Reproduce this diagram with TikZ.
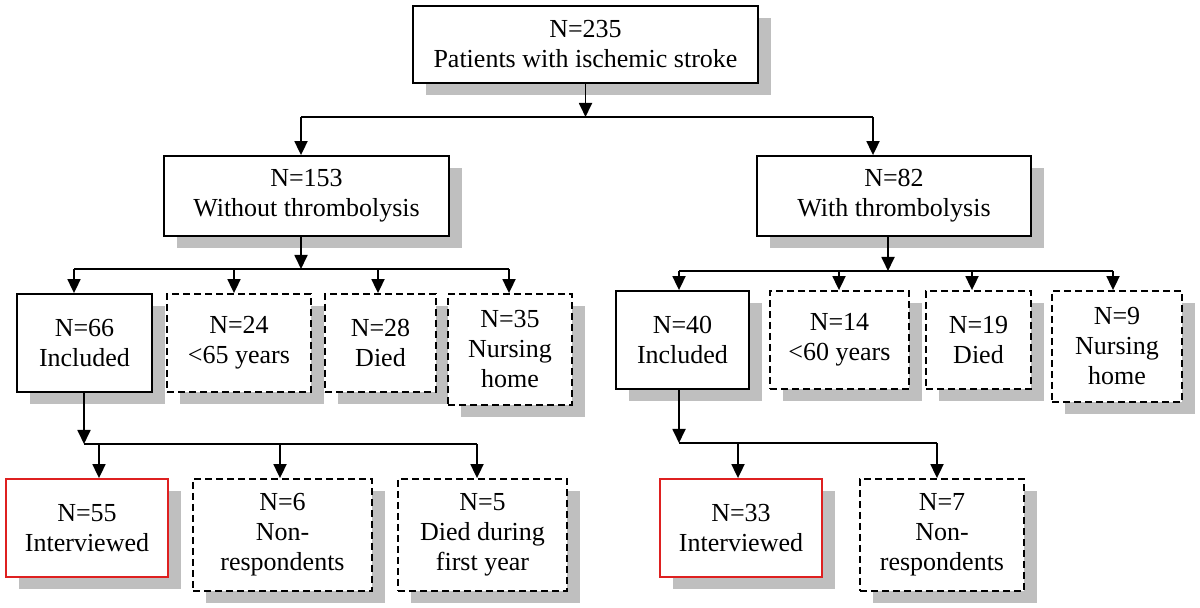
\documentclass[tikz,border=0pt]{standalone}
\usepackage{fontspec}
\setmainfont{Liberation Serif}
\usetikzlibrary{arrows.meta,shadows}
\definecolor{boxred}{RGB}{222,32,32}
\tikzset{
  box/.style={draw=black, fill=white, line width=0.9pt, align=center, inner sep=0pt,
    font=\fontsize{13pt}{15pt}\selectfont,
    drop shadow={shadow xshift=6.5pt, shadow yshift=-6pt, fill=black!25, opacity=1}},
  solidbox/.style={box},
  dashbox/.style={box, dash pattern=on 3.5pt off 2pt},
  redbox/.style={box, draw=boxred},
  conn/.style={line width=0.9pt},
  arr/.style={line width=0.9pt, -{Triangle[length=7pt,width=6.5pt]}},
}
\begin{document}
\begin{tikzpicture}[x=0.5pt,y=-0.5pt]
\useasboundingbox (0,0) rectangle (1200,608);
% level 1
\node[solidbox, minimum width=172.5pt, minimum height=38.5pt] (top) at (585.5,44.5) {N=235\\Patients with ischemic stroke};
% level 2
\node[solidbox, minimum width=142.5pt, minimum height=40pt] (wo) at (306.5,196) {N=153\\Without thrombolysis};
\node[solidbox, minimum width=137pt, minimum height=40pt] (wi) at (894,196) {N=82\\With thrombolysis};
% level 3 left
\node[solidbox, minimum width=67.5pt, minimum height=49pt] (inc66) at (84.5,343) {N=66\\Included};
\node[dashbox, minimum width=72pt, minimum height=49pt] (a24) at (239,343) {N=24\\<65 years};
\node[dashbox, minimum width=55.5pt, minimum height=49pt] (d28) at (380.5,343) {N=28\\Died};
\node[dashbox, minimum width=62pt, minimum height=55.5pt] (n35) at (510,349.5) {N=35\\Nursing\\home};
% level 3 right
\node[solidbox, minimum width=66.5pt, minimum height=49pt] (inc40) at (682.5,340) {N=40\\Included};
\node[dashbox, minimum width=69.5pt, minimum height=49pt] (a14) at (839.5,340) {N=14\\<60 years};
\node[dashbox, minimum width=52.5pt, minimum height=49pt] (d19) at (978.5,340) {N=19\\Died};
\node[dashbox, minimum width=65pt, minimum height=55.5pt] (n9) at (1117,346.5) {N=9\\Nursing\\home};
% level 4
\node[redbox, minimum width=81pt, minimum height=49pt] (i55) at (87,528) {N=55\\Interviewed};
\node[dashbox, minimum width=89.5pt, minimum height=56pt] (nr6) at (282.5,535) {N=6\\Non-\\respondents};
\node[dashbox, minimum width=84.5pt, minimum height=56pt] (dd5) at (482.5,535) {N=5\\Died during\\first year};
\node[redbox, minimum width=81pt, minimum height=49pt] (i33) at (741,528) {N=33\\Interviewed};
\node[dashbox, minimum width=82pt, minimum height=56pt] (nr7) at (942,535) {N=7\\Non-\\respondents};

% junction coordinates
\coordinate (j1) at (585.5,117);
\coordinate (j1l) at (301,117);
\coordinate (j1r) at (873,117);
\coordinate (j2) at (301,269);
\coordinate (j2a) at (74,269);
\coordinate (j2b) at (234,269);
\coordinate (j2c) at (378,269);
\coordinate (j2d) at (509,269);
\coordinate (j3) at (888,271);
\coordinate (j3a) at (679,271);
\coordinate (j3b) at (839,271);
\coordinate (j3c) at (972,271);
\coordinate (j3d) at (1113,271);
\coordinate (j4) at (84,444);
\coordinate (j4a) at (99,444);
\coordinate (j4b) at (280,444);
\coordinate (j4c) at (477,444);
\coordinate (j5) at (679,443);
\coordinate (j5a) at (738,443);
\coordinate (j5b) at (937,443);

% level 1 -> 2
\draw[arr] (top.south) -- (j1);
\draw[conn] (j1l) -- (j1r);
\draw[arr] (j1l) -- (j1l |- wo.north);
\draw[arr] (j1r) -- (j1r |- wi.north);
% without -> level 3
\draw[arr] (j2 |- wo.south) -- (j2);
\draw[conn] (j2a) -- (j2d);
\draw[arr] (j2a) -- (j2a |- inc66.north);
\draw[arr] (j2b) -- (j2b |- a24.north);
\draw[arr] (j2c) -- (j2c |- d28.north);
\draw[arr] (j2d) -- (j2d |- n35.north);
% with -> level 3
\draw[arr] (j3 |- wi.south) -- (j3);
\draw[conn] (j3a) -- (j3d);
\draw[arr] (j3a) -- (j3a |- inc40.north);
\draw[arr] (j3b) -- (j3b |- a14.north);
\draw[arr] (j3c) -- (j3c |- d19.north);
\draw[arr] (j3d) -- (j3d |- n9.north);
% included 66 -> level 4
\draw[arr] (j4 |- inc66.south) -- (j4);
\draw[conn] (j4) -- (j4c);
\draw[arr] (j4a) -- (j4a |- i55.north);
\draw[arr] (j4b) -- (j4b |- nr6.north);
\draw[arr] (j4c) -- (j4c |- dd5.north);
% included 40 -> level 4
\draw[arr] (j5 |- inc40.south) -- (j5);
\draw[conn] (j5) -- (j5b);
\draw[arr] (j5a) -- (j5a |- i33.north);
\draw[arr] (j5b) -- (j5b |- nr7.north);
\end{tikzpicture}
\end{document}
